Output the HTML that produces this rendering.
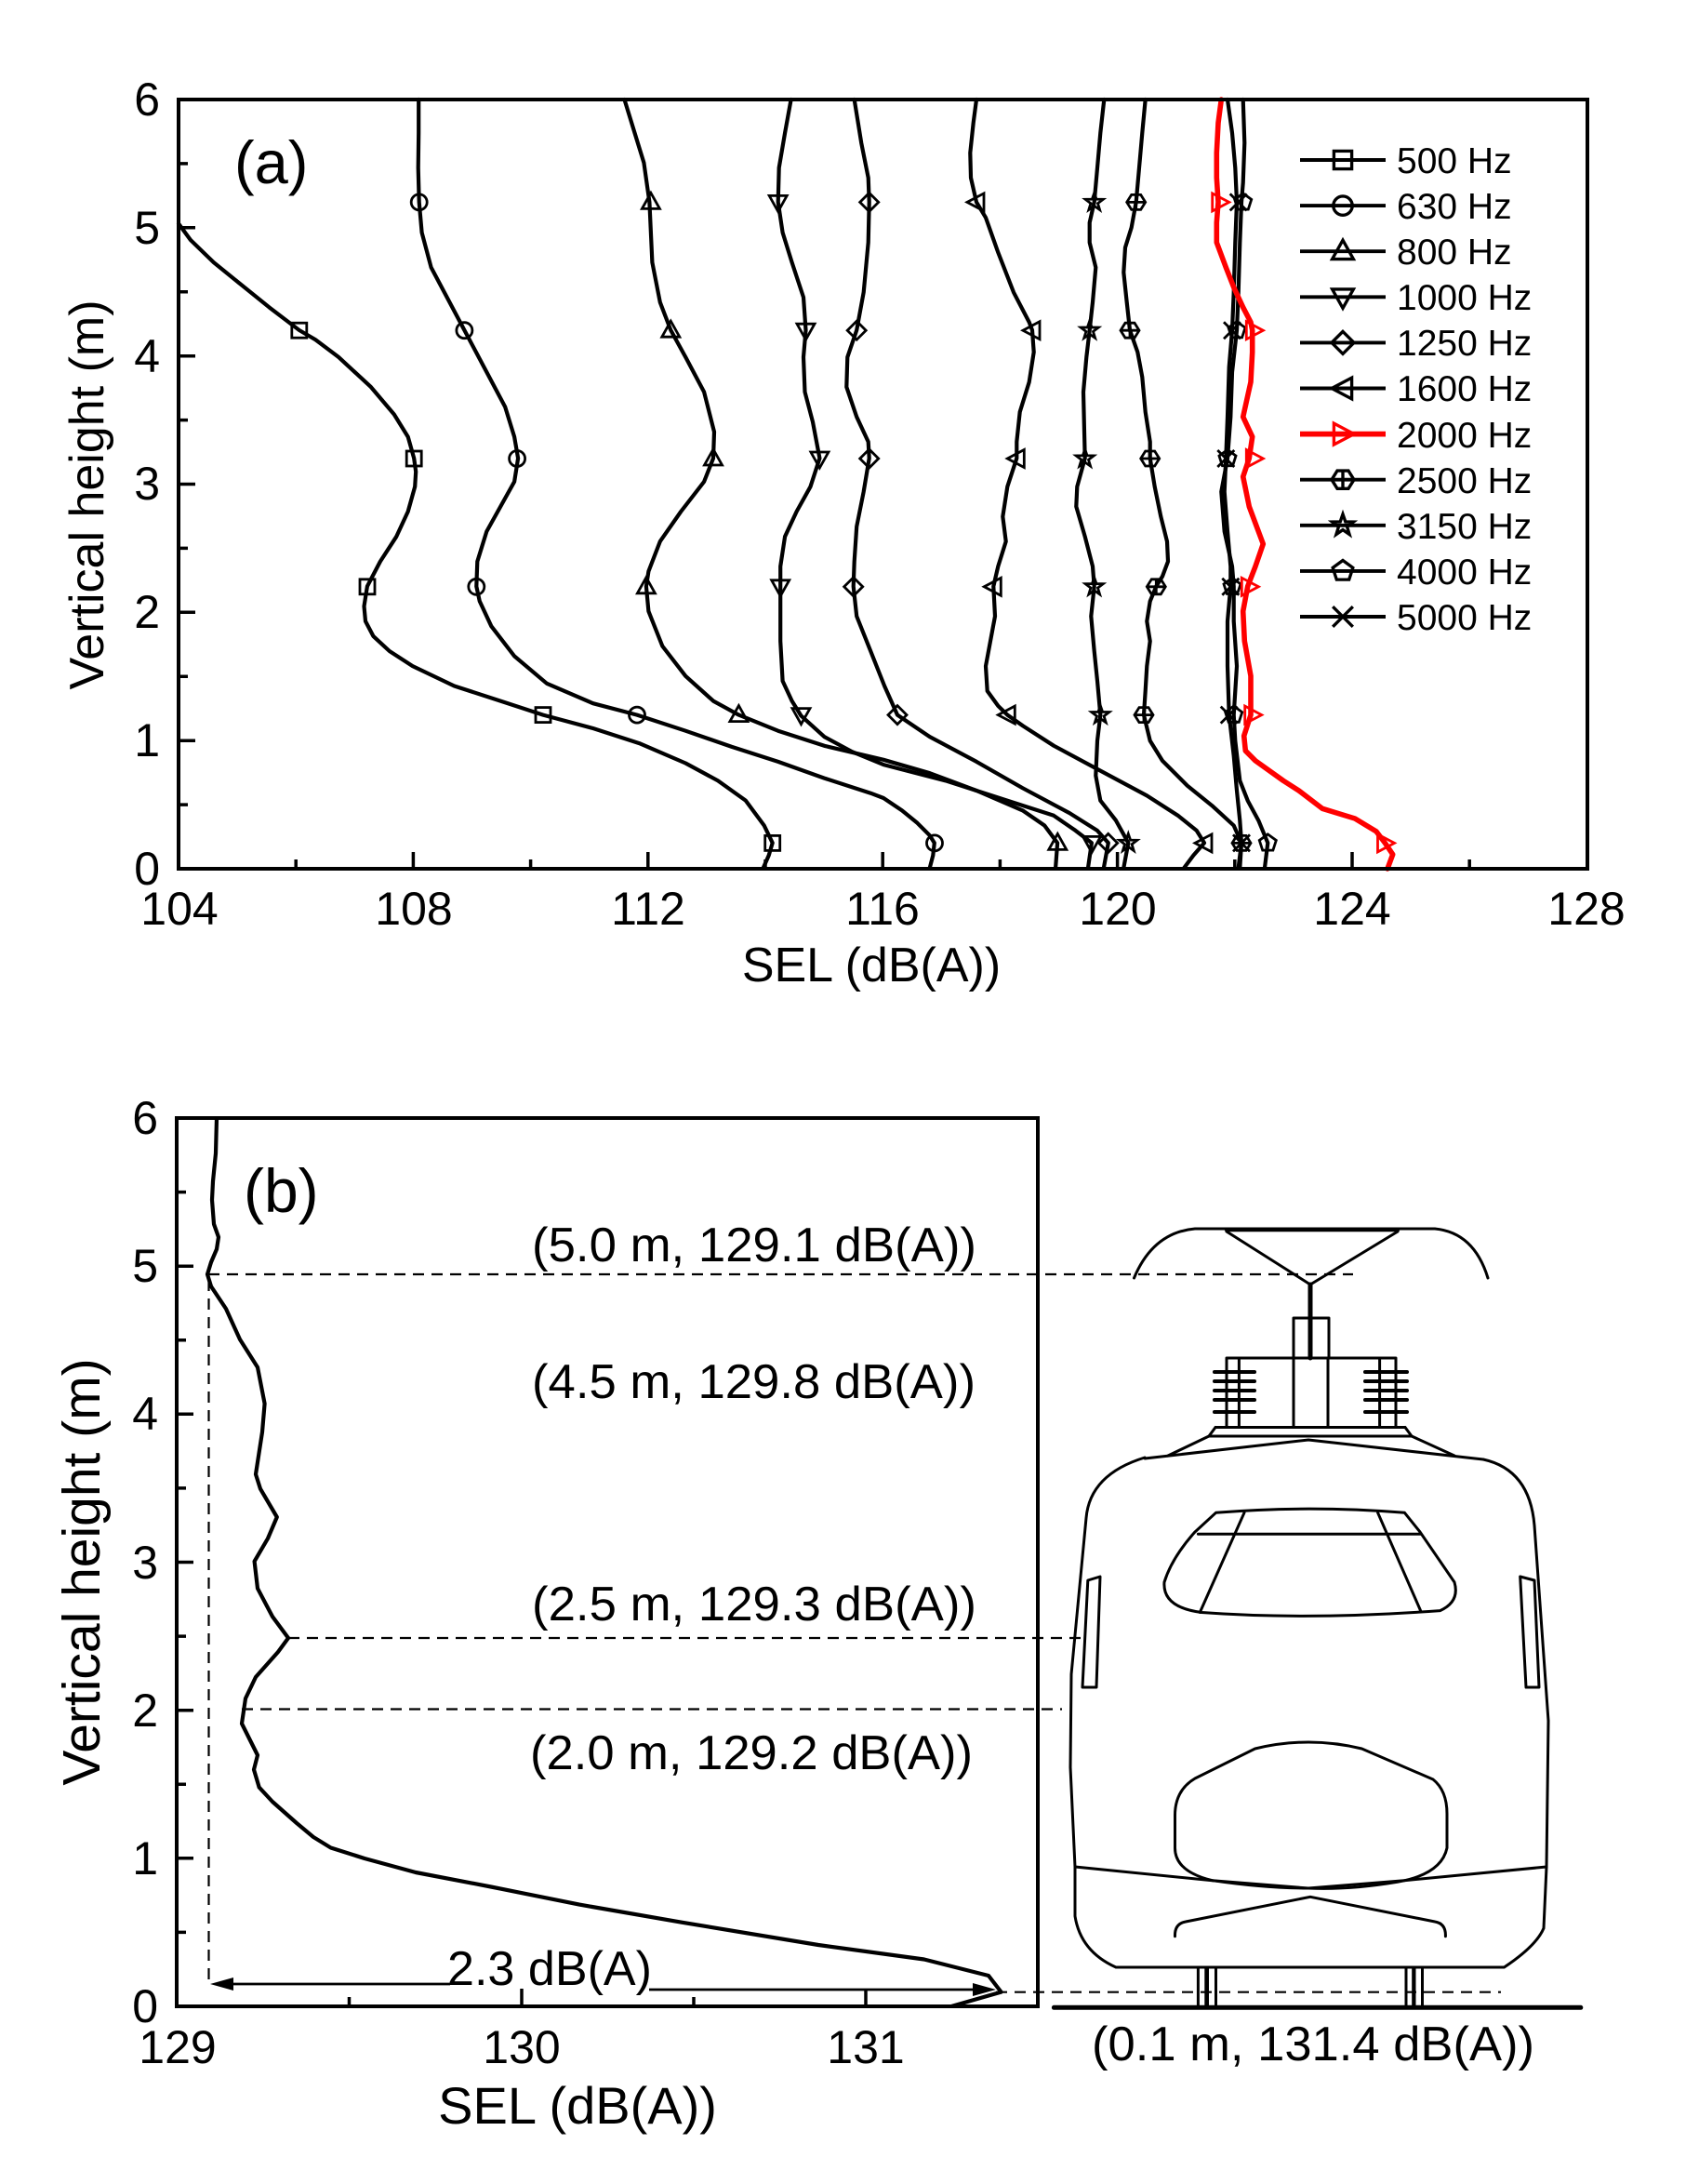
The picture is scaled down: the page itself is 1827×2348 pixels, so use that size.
<!DOCTYPE html>
<html><head><meta charset="utf-8"><style>
html,body{margin:0;padding:0;background:#fff}
svg{display:block}
text{font-family:"Liberation Sans",Arial,sans-serif;fill:#000}
</style></head><body>
<svg xmlns="http://www.w3.org/2000/svg" width="1827" height="2348" viewBox="0 0 1827 2348">
<rect width="1827" height="2348" fill="#fff"/>
<defs>
<g id="sq"><rect x="-8" y="-8" width="16" height="16"/></g>
<g id="ci"><circle r="8.5"/></g>
<g id="tu"><path d="M0,-10 L9.5,7 L-9.5,7 Z"/></g>
<g id="td"><path d="M0,10 L9.5,-7 L-9.5,-7 Z"/></g>
<g id="di"><path d="M0,-10 L10,0 L0,10 L-10,0 Z"/></g>
<g id="tl"><path d="M-10,0 L8,-9.5 L8,9.5 Z"/></g>
<g id="tr"><path d="M10,0 L-8,-9.5 L-8,9.5 Z"/></g>
<g id="hx"><path d="M-10,0 L-5,-8 L5,-8 L10,0 L5,8 L-5,8 Z M0,-8 L0,8 M-10,0 L10,0"/></g>
<g id="st"><path d="M0,-10 L2.35,-3.24 L9.51,-3.09 L3.8,1.24 L5.88,8.09 L0,4 L-5.88,8.09 L-3.8,1.24 L-9.51,-3.09 L-2.35,-3.24 Z"/></g>
<g id="pe"><path d="M0,-9.5 L9.03,-2.94 L5.58,7.69 L-5.58,7.69 L-9.03,-2.94 Z"/></g>
<g id="xx"><path d="M-9,-9 L9,9 M-9,9 L9,-9"/></g>
</defs>

<!-- ================= PANEL (a) ================= -->
<g fill="none" stroke="#000" stroke-width="4.2" stroke-linejoin="round" stroke-linecap="round">
 <polyline points="820.8,933 826.7,919.6 830.7,906.2 821.7,887.5 801.9,860.7 772,839.3 737.2,820.5 687.4,799.1 637.7,783 584,768.6 538.2,753.6 488.5,737.5 443.7,716.1 418.8,700 401.4,683.9 393,667.9 391.5,651.8 394.9,630.4 408.9,603.6 426.3,576.8 438.7,550 446.2,523.2 447.2,507.1 445.2,492.7 438.7,469.6 423.8,445.5 398.9,416.1 364.1,383.9 339.2,365.2 321.8,355 289.5,330.4 259.6,306.3 229.8,282.1 204.9,258 192,240.4"/>
 <polyline points="999.8,933 1003.3,919.6 1004.8,906.2 999.8,898.2 986.4,884.8 970,871.4 950.1,858 936.2,852.7 886.4,836.6 836.7,818.9 786.9,802.9 737.2,785.7 685,768.6 637.7,756.2 588,734.8 553.1,705.4 528.3,673.2 515.8,646.4 512.3,630.4 513.3,603.6 523.3,571.4 538.2,544.6 553.1,517.9 557.1,492.7 553.1,469.6 543.2,437.5 523.3,400 503.4,362.5 499.4,355 483.5,325 463.6,287.5 453.6,250 450.7,217.3 449.7,180.4 450.2,142.9 450.2,107"/>
 <polyline points="1135.1,933 1137.1,906.2 1123.2,887.5 1099.8,871.4 1050.1,850 999.8,831.2 950.1,816.8 886.4,801.8 836.7,785.7 794.4,768.6 767,753.6 737.2,726.8 712.3,694.6 697.4,657.1 694.9,630.4 697.4,614.3 709.8,582.1 732.2,550 757.1,517.9 767,492.7 768,464.3 757.1,421.4 737.2,383.9 721.3,355 709.8,325 701.4,282.1 699.9,250 698.4,217.3 692.4,175 682.5,142.9 671.5,107"/>
 <polyline points="1170,933 1173.9,906.2 1156.5,892.9 1133.1,876.8 1083.4,860.7 1016.7,839.3 950.1,822.1 916.3,808.2 886.4,792.1 861.5,769.6 851.6,753.6 841.6,732.1 839.2,689.3 839.2,630.4 839.2,608.9 844.1,576.8 856.6,550 871.5,523.2 881.4,492.7 874,453.6 865.5,421.4 864,383.9 866.5,355 864,319.6 851.6,282.1 841.6,250 836.7,217.3 837.7,180.4 844.1,142.9 850.6,107"/>
 <polyline points="1186.9,933 1191.8,906.2 1179.9,892.9 1150.1,874.1 1099.8,847.3 1050.1,818.9 999.8,792.1 965,768.6 951.1,737.5 936.2,700 921.2,662.5 917.7,630.4 918.7,603.6 921.2,566.1 928.7,528.6 934.7,492.7 933.7,475 921.2,448.2 910.3,416.1 911.3,383.9 921.2,355 928.7,314.3 933.7,260.7 934.7,217.3 933.7,191.1 926.2,153.6 918.7,107"/>
 <polyline points="1273.3,933 1283.3,919.6 1295,906.2 1286.7,892.9 1266.7,876.8 1233.3,855.4 1183.3,828.6 1133.3,801.8 1100,780.4 1083.3,768.6 1073.3,758.9 1061.7,742.9 1060,716.1 1065,689.3 1070,662.5 1068.3,630.4 1073.3,608.9 1081.7,582.1 1078.3,555.4 1083.3,523.2 1093.3,492.7 1093.3,475 1096.7,442.9 1106.7,410.7 1111.7,378.6 1110,355 1106.7,346.4 1090,314.3 1073.3,271.4 1060,233.9 1050,217.3 1044,191.1 1043.3,164.3 1046.7,132.1 1050,107"/>
 <polyline points="1208.3,933 1213.3,906.2 1200,882.1 1183.3,860.7 1178.3,833.9 1180,796.4 1183.3,768.6 1180,732.1 1176.7,700 1173.3,662.5 1176.7,630.4 1175,608.9 1166.7,576.8 1157.3,544.6 1158.3,523.2 1166.7,492.7 1166,464.3 1165,421.4 1168.3,383.9 1171.7,355 1175,325 1178.3,287.5 1171.7,260.7 1171.7,239.3 1176.7,217.3 1180,180.4 1183.3,142.9 1187.3,107"/>
 <polyline points="1333.3,933 1335,906.2 1326.7,887.5 1303.3,866.1 1276.7,844.6 1250,817.9 1236.7,796.4 1230,768.6 1231.7,742.9 1233.3,716.1 1236.7,689.3 1233.3,667.9 1236.7,646.4 1243.3,630.4 1250,619.6 1256,603.6 1255,582.1 1248.3,555.4 1241.7,523.2 1236.7,492.7 1236.7,475 1231.7,442.9 1228.3,405.4 1223.3,378.6 1215,355 1211.7,325 1208.3,292.9 1210,266.1 1216.7,244.6 1221.7,217.3 1225,180.4 1228.3,142.9 1231.7,107"/>
 <polyline points="1331.7,933 1335,906.2 1333.3,882.1 1330,850 1326.7,812.5 1321.7,768.6 1320,716.1 1320,667.9 1323.3,630.4 1323.3,608.9 1320,571.4 1316.7,528.6 1318.3,492.7 1320,448.2 1321.7,394.6 1325,355 1326.7,314.3 1328.3,260.7 1330,217.3 1328.3,180.4 1325,142.9 1320,107"/>
 <polyline points="1360,933 1363.3,906.2 1353.3,882.1 1341.7,860.7 1333.3,839.3 1328.3,796.4 1326.7,768.6 1330,716.1 1326.7,667.9 1326.7,630.4 1325,608.9 1316.7,571.4 1313.3,528.6 1320,492.7 1323.3,448.2 1325,400 1330,355 1331.7,314.3 1333.3,260.7 1335,217.3 1336.7,196.4 1338.3,153.6 1336.7,107"/>
 <polyline stroke="#f00" stroke-width="5.6" points="1492,934 1497.7,918.6 1489.3,906.2 1480,893.9 1457,880 1422,869.3 1396.7,850 1380,839.3 1350,817.9 1339.3,807.1 1337.7,791.1 1345,768.6 1345,726.8 1338.3,689.3 1336.7,657.1 1341.7,630.4 1350,608.9 1358.3,584.8 1343.3,544.6 1336.7,512.5 1343.3,492.7 1346.7,469.6 1336.7,448.2 1345,410.7 1346.7,378.6 1346.7,355 1345,346.4 1336.7,330.4 1326.7,308.9 1318.3,287.5 1308.3,260.7 1308.3,239.3 1310,217.3 1308.3,191.1 1308.3,164.3 1310,132.1 1313.3,107"/>
</g>

<!-- markers (a) -->
<g fill="none" stroke="#000" stroke-width="2.8" stroke-linejoin="miter">
 <use href="#sq" x="830.7" y="906.4"/><use href="#sq" x="584" y="768.6"/><use href="#sq" x="395" y="630.8"/><use href="#sq" x="445.2" y="493"/><use href="#sq" x="321.8" y="355.2"/>
 <use href="#ci" x="1005" y="906.4"/><use href="#ci" x="685" y="768.6"/><use href="#ci" x="512.3" y="630.8"/><use href="#ci" x="556.1" y="493"/><use href="#ci" x="499.4" y="355.2"/><use href="#ci" x="450.7" y="217.4"/>
 <use href="#tu" x="1137.3" y="906.4"/><use href="#tu" x="794.4" y="768.6"/><use href="#tu" x="694.9" y="630.8"/><use href="#tu" x="767" y="493"/><use href="#tu" x="721.3" y="355.2"/><use href="#tu" x="699.9" y="217.4"/>
 <use href="#td" x="1174" y="906.4"/><use href="#td" x="861.5" y="768.6"/><use href="#td" x="839.2" y="630.8"/><use href="#td" x="881.4" y="493"/><use href="#td" x="866.5" y="355.2"/><use href="#td" x="836.7" y="217.4"/>
 <use href="#di" x="1191.7" y="906.4"/><use href="#di" x="965" y="768.6"/><use href="#di" x="917.7" y="630.8"/><use href="#di" x="934.7" y="493"/><use href="#di" x="921.2" y="355.2"/><use href="#di" x="934.7" y="217.4"/>
 <use href="#tl" x="1295" y="906.4"/><use href="#tl" x="1083.3" y="768.6"/><use href="#tl" x="1068.3" y="630.8"/><use href="#tl" x="1093.3" y="493"/><use href="#tl" x="1110" y="355.2"/><use href="#tl" x="1050" y="217.4"/>
 <use href="#hx" x="1335" y="906.4"/><use href="#hx" x="1230" y="768.6"/><use href="#hx" x="1243.3" y="630.8"/><use href="#hx" x="1236.7" y="493"/><use href="#hx" x="1215" y="355.2"/><use href="#hx" x="1221.7" y="217.4"/>
 <use href="#st" x="1213.3" y="906.4"/><use href="#st" x="1183.3" y="768.6"/><use href="#st" x="1176.7" y="630.8"/><use href="#st" x="1166.7" y="493"/><use href="#st" x="1171.7" y="355.2"/><use href="#st" x="1176.7" y="217.4"/>
 <use href="#pe" x="1363.3" y="906.4"/><use href="#pe" x="1326.7" y="768.6"/><use href="#pe" x="1325" y="630.8"/><use href="#pe" x="1320" y="493"/><use href="#pe" x="1330" y="355.2"/><use href="#pe" x="1336.7" y="217.4"/>
 <use href="#xx" x="1335" y="906.4"/><use href="#xx" x="1321.7" y="768.6"/><use href="#xx" x="1323.3" y="630.8"/><use href="#xx" x="1318.3" y="493"/><use href="#xx" x="1325" y="355.2"/><use href="#xx" x="1331.7" y="217.4"/>
 <g stroke="#f00"><use href="#tr" x="1489.5" y="906.4"/><use href="#tr" x="1346.7" y="768.6"/><use href="#tr" x="1343.3" y="630.8"/><use href="#tr" x="1348.3" y="493"/><use href="#tr" x="1348.3" y="355.2"/><use href="#tr" x="1311.7" y="217.4"/></g>
</g>

<!-- axes (a) -->
<rect x="192" y="107" width="1515" height="827" fill="none" stroke="#000" stroke-width="4"/>
<g stroke="#000" stroke-width="3.5">
 <path d="M444.4,934V916 M696.8,934V916 M949.2,934V916 M1201.6,934V916 M1454,934V916"/>
 <path d="M318.2,934V924 M570.6,934V924 M823,934V924 M1075.4,934V924 M1327.8,934V924 M1580.2,934V924"/>
 <path d="M192,796.2H210 M192,658.3H210 M192,520.5H210 M192,382.7H210 M192,244.8H210"/>
 <path d="M192,865.1H202 M192,727.2H202 M192,589.4H202 M192,451.6H202 M192,313.8H202 M192,175.9H202"/>
</g>
<g font-size="50" text-anchor="end">
 <text x="172" y="951">0</text><text x="172" y="813">1</text><text x="172" y="675">2</text><text x="172" y="537">3</text><text x="172" y="400">4</text><text x="172" y="262">5</text><text x="172" y="124">6</text>
</g>
<g font-size="50" text-anchor="middle">
 <text x="193" y="994">104</text><text x="445" y="994">108</text><text x="697" y="994">112</text><text x="949" y="994">116</text><text x="1202" y="994">120</text><text x="1454" y="994">124</text><text x="1706" y="994">128</text>
</g>
<text x="937" y="1055" font-size="52" text-anchor="middle">SEL (dB(A))</text>
<text transform="translate(111,532) rotate(-90)" font-size="52" text-anchor="middle">Vertical height (m)</text>
<text x="252" y="197" font-size="65">(a)</text>

<!-- legend (a) -->
<g stroke="#000" stroke-width="3.9" fill="none">
 <path d="M1398,172H1490 M1398,221.1H1490 M1398,270.2H1490 M1398,319.3H1490 M1398,368.4H1490 M1398,417.5H1490 M1398,515.7H1490 M1398,564.8H1490 M1398,613.9H1490 M1398,663H1490"/>
 <path d="M1398,466.6H1490" stroke="#f00" stroke-width="5.8"/>
</g>
<g fill="none" stroke="#000" stroke-width="2.8">
 <use href="#sq" transform="translate(1444,172) scale(1.2)"/>
 <use href="#ci" transform="translate(1444,221.1) scale(1.2)"/>
 <use href="#tu" transform="translate(1444,270.2) scale(1.2)"/>
 <use href="#td" transform="translate(1444,319.3) scale(1.2)"/>
 <use href="#di" transform="translate(1444,368.4) scale(1.2)"/>
 <use href="#tl" transform="translate(1444,417.5) scale(1.2)"/>
 <use href="#tr" transform="translate(1444,466.6) scale(1.2)" stroke="#f00"/>
 <use href="#hx" transform="translate(1444,515.7) scale(1.2)"/>
 <use href="#st" transform="translate(1444,564.8) scale(1.2)"/>
 <use href="#pe" transform="translate(1444,613.9) scale(1.2)"/>
 <use href="#xx" transform="translate(1444,663) scale(1.2)"/>
</g>
<g font-size="39">
 <text x="1502" y="186">500 Hz</text><text x="1502" y="235">630 Hz</text><text x="1502" y="284">800 Hz</text><text x="1502" y="333">1000 Hz</text><text x="1502" y="382">1250 Hz</text><text x="1502" y="431">1600 Hz</text><text x="1502" y="481">2000 Hz</text><text x="1502" y="530">2500 Hz</text><text x="1502" y="579">3150 Hz</text><text x="1502" y="628">4000 Hz</text><text x="1502" y="677">5000 Hz</text>
</g>

<!-- ================= PANEL (b) ================= -->
<g stroke="#000" stroke-width="2.2" fill="none" stroke-dasharray="12,8">
 <path d="M224,1370H1455"/>
 <path d="M224.5,1376V2133"/>
 <path d="M310,1761H1168"/>
 <path d="M260,1837.5H1142"/>
 <path d="M1071,2141.7H1614"/>
</g>
<polyline fill="none" stroke="#000" stroke-width="4.2" stroke-linejoin="round" points="233,1202 232,1240 229,1270 228,1290 230,1316 235,1330 233,1343 227,1357 223,1370 227,1383 243,1407 258,1440 277,1470 284.6,1509 282,1539.6 275,1585 280,1600.7 297.8,1631 288,1654 273.6,1678.6 277,1707.7 293,1738 310,1761 299,1776 275,1803 264,1826 260,1853 277,1887 273,1902.5 278.7,1921.6 293,1937 319,1960 337,1975 355.7,1986.5 392,1998 447,2013 528,2028.5 623,2047.6 733,2066.7 880,2091 993.7,2106.5 1063,2124 1076.6,2141.6 1023,2157"/>
<!-- arrow -->
<g stroke="#000" stroke-width="2.7">
 <path d="M245,2133H484"/>
 <path d="M698,2139H1050"/>
</g>
<path d="M226,2133 L251,2126 L251,2140 Z" fill="#000"/>
<path d="M1071,2139 L1046,2132 L1046,2146 Z" fill="#000"/>

<rect x="190" y="1202" width="926" height="955" fill="none" stroke="#000" stroke-width="4"/>
<g stroke="#000" stroke-width="3.5">
 <path d="M561,2157V2138 M931,2157V2138"/>
 <path d="M375.5,2157V2147 M746,2157V2147"/>
 <path d="M190,1997.8H208 M190,1838.7H208 M190,1679.5H208 M190,1520.3H208 M190,1361.2H208"/>
 <path d="M190,2077.4H200 M190,1918.3H200 M190,1759.1H200 M190,1599.9H200 M190,1440.8H200 M190,1281.6H200"/>
</g>
<g font-size="50" text-anchor="end">
 <text x="170" y="2174">0</text><text x="170" y="2015">1</text><text x="170" y="1856">2</text><text x="170" y="1697">3</text><text x="170" y="1537">4</text><text x="170" y="1378">5</text><text x="170" y="1219">6</text>
</g>
<g font-size="50" text-anchor="middle">
 <text x="191" y="2218">129</text><text x="561" y="2218">130</text><text x="931" y="2218">131</text>
</g>
<text x="621" y="2283" font-size="56" text-anchor="middle">SEL (dB(A))</text>
<text transform="translate(107,1690) rotate(-90)" font-size="57" text-anchor="middle">Vertical height (m)</text>
<text x="262" y="1303" font-size="66">(b)</text>
<g font-size="52">
 <text x="572" y="1356" textLength="478" lengthAdjust="spacingAndGlyphs">(5.0 m, 129.1 dB(A))</text>
 <text x="572" y="1503" textLength="477" lengthAdjust="spacingAndGlyphs">(4.5 m, 129.8 dB(A))</text>
 <text x="572" y="1742" textLength="478" lengthAdjust="spacingAndGlyphs">(2.5 m, 129.3 dB(A))</text>
 <text x="570" y="1902" textLength="476" lengthAdjust="spacingAndGlyphs">(2.0 m, 129.2 dB(A))</text>
 <text x="481" y="2134" textLength="220" lengthAdjust="spacingAndGlyphs">2.3 dB(A)</text>
 <text x="1174" y="2215" textLength="476" lengthAdjust="spacingAndGlyphs">(0.1 m, 131.4 dB(A))</text>
</g>

<!-- train -->
<g fill="none" stroke="#000" stroke-width="3" stroke-linejoin="round" stroke-linecap="round">
 <path d="M1219.5,1374 Q1240,1325 1285,1321 L1543,1321 Q1585,1325 1600,1374"/>
 <path d="M1319,1322 H1503" stroke-width="4.5"/>
 <path d="M1319,1324 L1409,1381 L1503,1324"/>
 <path d="M1409,1381 V1460" stroke-width="5"/>
 <rect x="1391" y="1417" width="38" height="43"/>
 <rect x="1319" y="1460" width="182" height="74.5"/>
 <path d="M1332.4,1460V1534.5 M1483.6,1460V1534.5 M1391,1460V1534.5 M1428,1460V1534.5"/>
 <g stroke-width="4">
  <path d="M1306,1475H1349 M1306,1485H1349 M1306,1495H1349 M1306,1505H1349 M1306,1518H1349"/>
  <path d="M1468,1475H1513 M1468,1485H1513 M1468,1495H1513 M1468,1505H1513 M1468,1518H1513"/>
 </g>
 <path d="M1307,1534.5H1511 M1300,1544H1518 M1307,1534.5 L1300,1544 M1511,1534.5 L1518,1544"/>
 <path d="M1300,1544 L1256,1565 M1518,1544 L1564,1565"/>
 <path d="M1231,1568 L1407,1548 L1595,1569"/>
 <path d="M1231,1567 Q1172,1585 1168,1632 L1152,1800 L1151,1900 L1156,2007 L1156,2060 Q1162,2098 1200,2115 L1617.5,2115 Q1652,2092 1660,2073 L1663,2007 L1665,1850 L1650,1640 Q1645,1580 1595,1569"/>
 <path d="M1156,2007 L1303.7,2021.7 L1407,2030 L1510,2021.7 L1663,2007"/>
 <path d="M1263.5,2081.7 Q1263,2068 1275,2066 L1409,2039.3 L1543,2066 Q1555,2068 1554.4,2081.7"/>
 <path d="M1263.5,1953 Q1263,1925 1285,1912 L1349.6,1880 Q1407,1866 1464.4,1880 L1541,1913 Q1556,1925 1556,1950 L1556,1986.7 Q1550,2015 1502.7,2023.3 Q1450,2032 1407,2030 Q1360,2030 1303.7,2021.7 Q1263.5,2012 1263.5,1986.7 Z"/>
 <path d="M1307.5,1626.3 Q1407,1618 1510.4,1626.3 L1527,1647 L1564,1701 Q1570,1722 1548.6,1731.6 Q1407,1742 1292,1733.5 Q1250,1728 1252,1701 Q1260,1675 1284.6,1647.4 Z"/>
 <path d="M1288.4,1649.3H1527.6 M1338,1626.3 L1290.3,1733.5 M1481.6,1626.3 L1527.6,1731.6"/>
 <path d="M1169.8,1699 L1183,1695 L1179,1814 L1164,1814 Z"/>
 <path d="M1634.7,1695 L1650,1699 L1655,1814 L1641,1814 Z"/>
 <rect x="1288.4" y="2115" width="8.4" height="44"/>
 <rect x="1298.5" y="2115" width="9" height="44"/>
 <rect x="1512" y="2115" width="7.7" height="44"/>
 <rect x="1521" y="2115" width="8.5" height="44"/>
 <path d="M1133.4,2158.3H1699.8" stroke-width="5"/>
</g>
</svg>
</body></html>
